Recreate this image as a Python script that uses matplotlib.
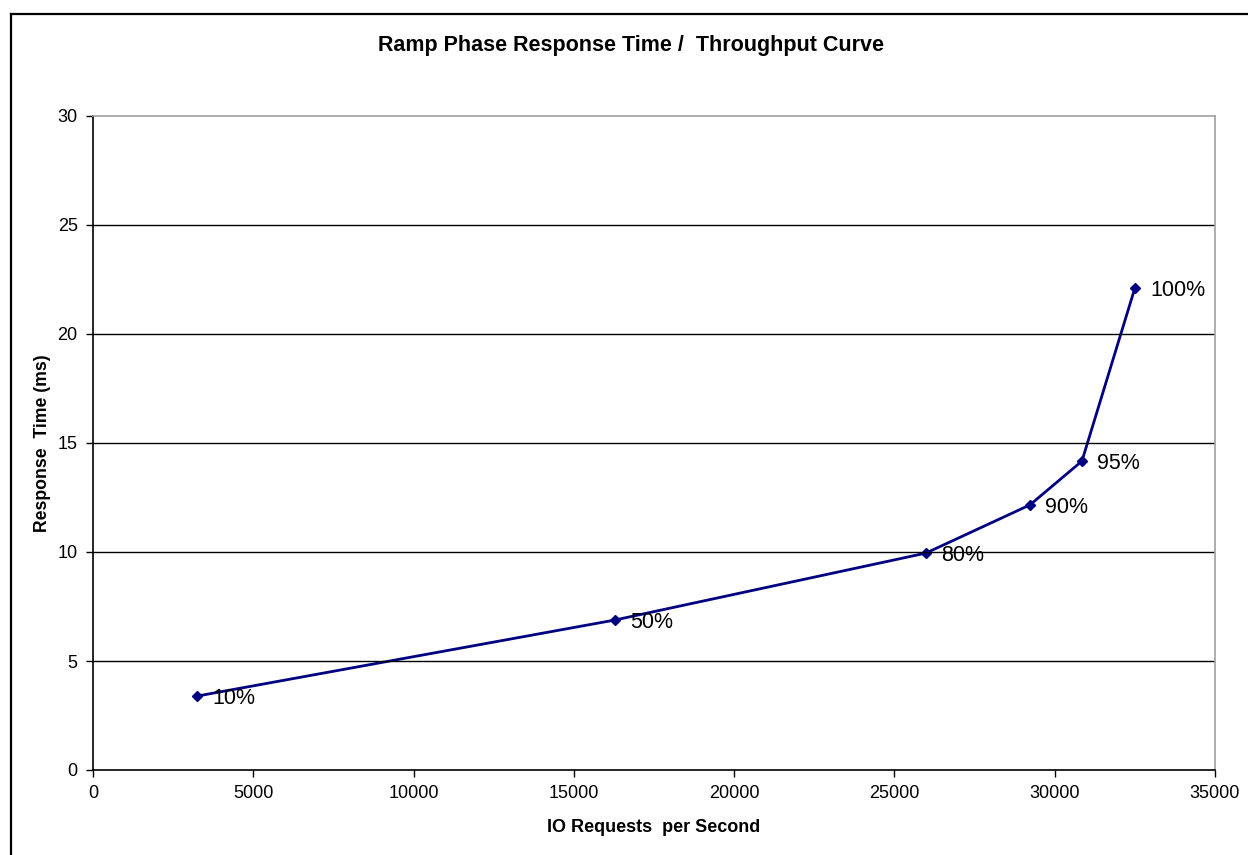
import matplotlib
matplotlib.use("Agg")
import matplotlib.pyplot as plt
from matplotlib.lines import Line2D

plt.rcParams['font.family'] = ['Liberation Sans', 'DejaVu Sans']

# data
iops = [3244, 16282, 25983, 29227, 30849, 32501]
resp_ms = [3.39, 6.88, 9.95, 12.16, 14.17, 22.11]
load_labels = ["10%", "50%", "80%", "90%", "95%", "100%"]

x_ticks = [0, 5000, 10000, 15000, 20000, 25000, 30000, 35000]
y_ticks = [0, 5, 10, 15, 20, 25, 30]

fig = plt.figure(figsize=(12.48, 8.55), dpi=100)
ax = fig.add_axes([93 / 1248, 1 - 770 / 855, 1122 / 1248, 654 / 855])

# outer chart frame (only top and left visible in the reference)
fig.add_artist(Line2D([11 / 1248, 1], [1 - 14 / 855, 1 - 14 / 855], color="black", lw=1.6))
fig.add_artist(Line2D([11 / 1248, 11 / 1248], [0, 1 - 14 / 855], color="black", lw=1.6))

ax.plot(iops, resp_ms, color="#000080", lw=2.0, marker="D", markersize=5.5)
for x, y, lab in zip(iops, resp_ms, load_labels):
    ax.annotate(lab, (x, y), xytext=(11, -2), textcoords="offset points",
                ha="left", va="center", fontsize=15.5, color="black")

ax.set_xlim(0, 35000)
ax.set_ylim(0, 30)
ax.set_xticks(x_ticks)
ax.set_yticks(y_ticks)
ax.tick_params(direction="out", length=5, width=1, labelsize=13, pad=6)

for y in y_ticks[1:-1]:
    ax.axhline(y, color="black", lw=1)

ax.spines["left"].set_color("black")
ax.spines["bottom"].set_color("black")
ax.spines["top"].set_color("#a0a0a0")
ax.spines["right"].set_color("#a0a0a0")
for s in ax.spines.values():
    s.set_linewidth(1.2)

ax.set_xlabel("IO Requests  per Second", fontsize=13, fontweight="bold", labelpad=12)
ax.set_ylabel("Response  Time (ms)", fontsize=12.7, fontweight="bold", labelpad=5)
fig.text(631 / 1248, 1 - 45 / 855, "Ramp Phase Response Time /  Throughput Curve",
         ha="center", va="center", fontsize=15.5, fontweight="bold")

fig.savefig("out.png", dpi=100)
